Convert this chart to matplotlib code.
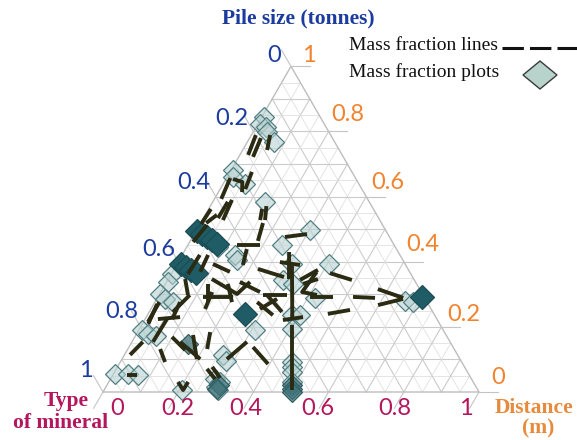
import matplotlib.pyplot as plt
from matplotlib.lines import Line2D
from matplotlib.patches import Polygon
import numpy as np

# mass fractions: (type of mineral, distance); pile size = 1 - mineral - distance
light_mineral = [0.005, 0.005, 0.027, 0.037, 0.071, 0.005, 0.016, 0.059, 0.139,
                 0.083, 0.141, 0.154, 0.003, 0.004, 0.0, 0.022, 0.048,
                 0.009, 0.031, 0.055, 0.004, 0.039, 0.067, 0.207,
                 0.309, 0.262, 0.280, 0.278, 0.296, 0.293, 0.303,
                 0.385, 0.406, 0.457, 0.465, 0.473, 0.488, 0.406,
                 0.302, 0.251, 0.306, 0.307, 0.339, 0.405, 0.420, 0.664, 0.686]
light_distance = [0.845, 0.824, 0.814, 0.799, 0.768, 0.682, 0.660, 0.639, 0.584,
                  0.445, 0.421, 0.405, 0.362, 0.338, 0.301, 0.286, 0.276,
                  0.190, 0.178, 0.172, 0.055, 0.055, 0.052, 0.006,
                  0.190, 0.114, 0.095, 0.040, 0.031, 0.015, 0.006,
                  0.236, 0.193, 0.092, 0.077, 0.061, 0.031, 0.236,
                  0.498, 0.451, 0.393, 0.344, 0.332, 0.393, 0.289, 0.279, 0.276]

mid_mineral = [0.152, 0.493, 0.498, 0.503, 0.298, 0.300]
mid_distance = [0.147, 0.021, 0.009, 0.0, 0.020, 0.008]

dark_mineral = [0.003, 0.021, 0.039, 0.057, 0.076, 0.011, 0.029, 0.047, 0.064, 0.258, 0.702]
dark_distance = [0.494, 0.485, 0.476, 0.467, 0.455, 0.393, 0.384, 0.375, 0.366, 0.240, 0.292]

# mass fraction line pieces, each a list of (mineral, distance)
lines = [
    [(0.012, 0.789), (0.022, 0.728)], [(0.030, 0.780), (0.038, 0.722)],
    [(0.050, 0.789), (0.065, 0.743)], [(0.058, 0.676), (0.067, 0.623)],
    [(0.019, 0.654), (0.048, 0.645), (0.063, 0.614)], [(0.010, 0.657), (0.018, 0.593)],
    [(0.149, 0.571), (0.167, 0.528)], [(0.048, 0.590), (0.055, 0.528)],
    [(0.031, 0.544), (0.015, 0.519)], [(0.040, 0.584), (0.039, 0.534)],
    [(0.006, 0.562), (0.003, 0.516)], [(0.142, 0.562), (0.154, 0.528)],
    [(0.246, 0.476), (0.300, 0.485)], [(0.131, 0.451), (0.193, 0.451)],
    [(0.163, 0.439), (0.177, 0.390)], [(0.280, 0.430), (0.321, 0.347)],
    [(0.047, 0.421), (0.045, 0.362)], [(0.223, 0.378), (0.305, 0.353)],
    [(0.116, 0.347), (0.206, 0.301), (0.222, 0.338)], [(0.120, 0.292), (0.200, 0.292)],
    [(0.113, 0.332), (0.141, 0.276)], [(0.166, 0.332), (0.205, 0.276)],
    [(0.045, 0.347), (0.077, 0.298)], [(0.012, 0.276), (0.012, 0.215)],
    [(0.067, 0.276), (0.072, 0.224)], [(0.034, 0.224), (0.090, 0.230)],
    [(0.029, 0.154), (0.015, 0.114)], [(0.099, 0.169), (0.154, 0.129)],
    [(0.152, 0.175), (0.199, 0.101)], [(0.193, 0.184), (0.211, 0.132)],
    [(0.128, 0.154), (0.208, 0.101)], [(0.279, 0.101), (0.306, 0.154)],
    [(0.330, 0.138), (0.396, 0.086)], [(0.038, 0.052), (0.064, 0.052)],
    [(0.086, 0.132), (0.119, 0.092)], [(0.184, 0.031), (0.210, 0.006), (0.211, 0.031)],
    [(0.241, 0.071), (0.278, 0.040)], [(0.252, 0.077), (0.290, 0.043)],
    [(0.306, 0.393), (0.393, 0.221)], [(0.400, 0.206), (0.500, 0.006)],
    [(0.421, 0.365), (0.490, 0.344)], [(0.352, 0.344), (0.384, 0.375)],
    [(0.384, 0.369), (0.376, 0.307), (0.420, 0.298)], [(0.405, 0.292), (0.466, 0.292)],
    [(0.519, 0.292), (0.579, 0.289)], [(0.573, 0.316), (0.654, 0.289)],
    [(0.598, 0.267), (0.655, 0.286)], [(0.478, 0.240), (0.531, 0.252)],
    [(0.277, 0.298), (0.340, 0.298)], [(0.272, 0.276), (0.334, 0.236)],
    [(0.287, 0.298), (0.353, 0.246)], [(0.290, 0.255), (0.320, 0.286)],
    [(0.368, 0.221), (0.417, 0.230)], [(0.195, 0.338), (0.264, 0.307)],
    [(0.020, 0.513), (0.009, 0.461)], [(0.069, 0.421), (0.074, 0.369)],
    [(0.082, 0.298), (0.063, 0.246)], [(0.137, 0.307), (0.144, 0.255)],
    [(0.271, 0.399), (0.329, 0.390)], [(0.366, 0.332), (0.398, 0.347)],
    [(0.009, 0.270), (0.016, 0.209)], [(0.058, 0.224), (0.056, 0.154)],
    [(0.166, 0.519), (0.180, 0.464)], [(0.096, 0.393), (0.153, 0.369)],
]

ticks = [0, 0.2, 0.4, 0.6, 0.8, 1]
pile_labels = ['0', '0.2', '0.4', '0.6', '0.8', '1']
dist_labels = ['1', '0.8', '0.6', '0.4', '0.2', '0']
mineral_labels = ['0', '0.2', '0.4', '0.6', '0.8', '1']

BLUE = '#1b3b9e'
ORANGE = '#f2832e'
CRIMSON = '#b3165c'
LINE_C = '#2b2a12'

H = np.sqrt(3) / 2


def tern(a, c):
    a = np.asarray(a, dtype=float)
    c = np.asarray(c, dtype=float)
    return a + c / 2, c * H


W, HGT = 577, 440
X0, Y0, S = 103, 392, 376   # pixel of the bottom-left corner, pixels per unit
fig = plt.figure(figsize=(W / 100, HGT / 100), dpi=100)
ax = fig.add_axes([0, 0, 1, 1])
ax.set_xlim(-X0 / S, (W - X0) / S)
ax.set_ylim((Y0 - HGT) / S, Y0 / S)
ax.axis('off')


def fpos(px, py):
    return px / W, 1 - py / HGT


def to_px(x, y):
    return X0 + S * x, Y0 - S * y


# grid
for v in np.arange(0.05, 0.999, 0.05):
    major = abs(v * 10 - round(v * 10)) < 1e-6
    col = '#cbcbcb' if major else '#e0e0e0'
    lw = 0.8 if major else 0.6
    for (a0, c0), (a1, c1) in [((0, v), (1 - v, v)),
                               ((v, 0), (v, 1 - v)),
                               ((1 - v, 0), (0, 1 - v))]:
        x, y = tern([a0, a1], [c0, c1])
        ax.plot(x, y, color=col, lw=lw, zorder=1)

# outer edges
x, y = tern([0, 1, 0, 0], [0, 0, 1, 0])
ax.plot(x, y, color='#bdbdbd', lw=1.0, zorder=1)

# tick extensions
ext = 0.05
for v in ticks:
    x, y = tern(1 - v, v)
    ax.plot([x, x + ext], [y, y], color='#c4c4c4', lw=0.8, zorder=1)
    x, y = tern(0, 1 - v)
    ax.plot([x, x - ext / 2], [y, y + ext * H], color='#c4c4c4', lw=0.8, zorder=1)
    x, y = tern(v, 0)
    ax.plot([x, x - ext / 2], [y, y - ext * H], color='#c4c4c4', lw=0.8, zorder=1)

# mass fraction lines
for seg in lines:
    a, c = zip(*seg)
    x, y = tern(a, c)
    ax.plot(x, y, color=LINE_C, lw=2.8, solid_capstyle='butt', zorder=3)

# mass fraction plots
x, y = tern(light_mineral, light_distance)
ax.plot(x, y, 'D', ms=10, mfc=(0.72, 0.82, 0.82, 0.6), mec='#527f82', mew=0.9,
        ls='none', zorder=2)
x, y = tern(mid_mineral, mid_distance)
ax.plot(x, y, 'D', ms=10, mfc=(0.25, 0.45, 0.48, 0.75), mec='#2f5d62', mew=0.9,
        ls='none', zorder=2)
x, y = tern(dark_mineral, dark_distance)
ax.plot(x, y, 'D', ms=12, mfc='#1f5c66', mec='#1a4d55', mew=0.9,
        ls='none', zorder=2)

# axis tick labels
tick_font = dict(family=['Lato', 'DejaVu Sans'], fontsize=17)
pile_off = [(-10, -11), (-5, -13), (-6, -14), (-3, -12), (-2, -15), (-10, -22)]
for v, lab, (dx, dy) in zip(ticks, pile_labels, pile_off):
    px, py = to_px(*tern(0, 1 - v))
    fig.text(*fpos(px + dx, py + dy), lab, color=BLUE, ha='right', va='center', **tick_font)
dist_off = [(11, -11), (3, -17), (5, -14), (2, -17), (6, -12), (12, -15)]
for v, lab, (dx, dy) in zip(ticks[::-1], dist_labels, dist_off):
    px, py = to_px(*tern(1 - v, v))
    fig.text(*fpos(px + dx, py + dy), lab, color=ORANGE, ha='left', va='center', **tick_font)
bottom_shift = [14, 0, -8, -11, -9, -13]
for v, lab, dx in zip(ticks, mineral_labels, bottom_shift):
    px, py = to_px(*tern(v, 0))
    fig.text(*fpos(px + dx, 408), lab, color=CRIMSON, ha='center', va='center', **tick_font)

# axis titles
title_font = dict(family='Liberation Serif', fontweight='bold', fontsize=15.5)
fig.text(*fpos(298, 18), 'Pile size (tonnes)', color=BLUE, ha='center', va='center', **title_font)
fig.text(*fpos(66, 401), 'Type', color=CRIMSON, ha='center', va='center', **title_font)
fig.text(*fpos(61, 423), 'of mineral', color=CRIMSON, ha='center', va='center', **title_font)
fig.text(*fpos(534, 408), 'Distance', color='#e88a3c', ha='center', va='center', **title_font)
fig.text(*fpos(538, 428), '(m)', color='#e88a3c', ha='center', va='center', **title_font)

# legend
leg_font = dict(family='Liberation Serif', fontsize=14, color='#111111')
fig.text(*fpos(349, 46), 'Mass fraction lines', ha='left', va='center', **leg_font)
fig.text(*fpos(349, 72), 'Mass fraction plots', ha='left', va='center', **leg_font)
fig.add_artist(Line2D([502 / W, 1.0], [1 - 48 / HGT] * 2, color='#111111', lw=2.2,
                      dashes=(7, 2), transform=fig.transFigure))
cx, cy, hw, hh = 540, 75, 17, 14
fig.add_artist(Polygon([fpos(cx - hw, cy), fpos(cx, cy - hh), fpos(cx + hw, cy), fpos(cx, cy + hh)],
                       closed=True, fc='#b7d3cc', ec='#3a3a3a', lw=1.0, transform=fig.transFigure))

fig.savefig('out.png', dpi=100)
